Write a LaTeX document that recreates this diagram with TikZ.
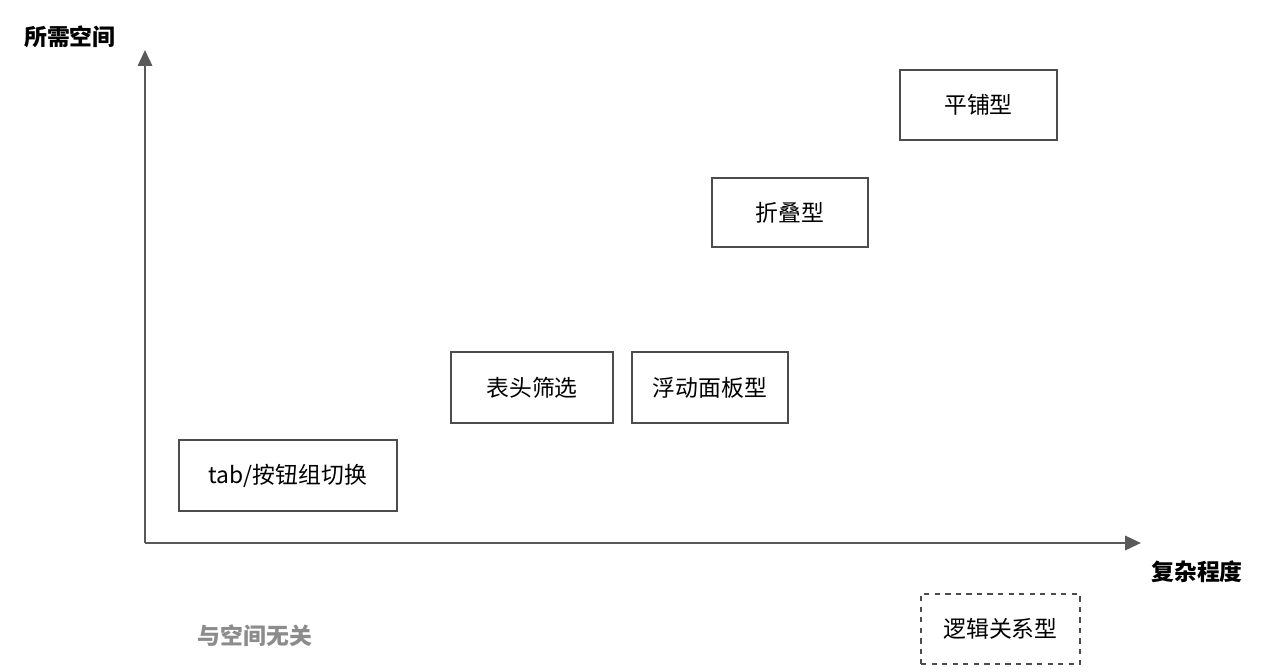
\documentclass[tikz,border=0pt]{standalone}
\usepackage{fontspec}
\setmainfont{Noto Sans CJK SC}
\usetikzlibrary{arrows.meta}

\tikzset{
  box/.style={draw=black!70, line width=1.6pt, inner sep=0pt, font=\fontsize{13}{15}\selectfont},
  axis/.style={draw=black!65, line width=1.6pt, -{Triangle[length=9pt,width=8pt]}},
}

\begin{document}
\begin{tikzpicture}[x=0.02cm,y=-0.02cm]
\useasboundingbox (0,0) rectangle (1268,672);

% axes
\coordinate (o) at (145,543);
\coordinate (ytop) at (145,50);
\coordinate (xend) at (1141,543);
\draw[axis] (o) -- (ytop);
\draw[axis] (o) -- (xend);

\node[font=\bfseries\fontsize{13}{15}\selectfont] (ylab) at (70,37) {所需空间};
\node[font=\bfseries\fontsize{13}{15}\selectfont] (xlab) at (1197,572) {复杂程度};
\node[text=black!45, font=\bfseries\fontsize{13}{15}\selectfont] (none) at (255,636) {与空间无关};

% boxes
\node[box, minimum width=3.14cm, minimum height=1.4cm] (tile) at (978.5,105) {平铺型};
\node[box, minimum width=3.12cm, minimum height=1.38cm] (fold) at (790,212.5) {折叠型};
\node[box, minimum width=3.24cm, minimum height=1.42cm] (head) at (532,387.5) {表头筛选};
\node[box, minimum width=3.12cm, minimum height=1.42cm] (float) at (710,387.5) {浮动面板型};
\node[box, minimum width=4.36cm, minimum height=1.42cm] (tab) at (288,475.5) {tab/按钮组切换};
\node[box, dashed, minimum width=3.18cm, minimum height=1.4cm] (logic) at (1000.5,629) {逻辑关系型};

\end{tikzpicture}
\end{document}
